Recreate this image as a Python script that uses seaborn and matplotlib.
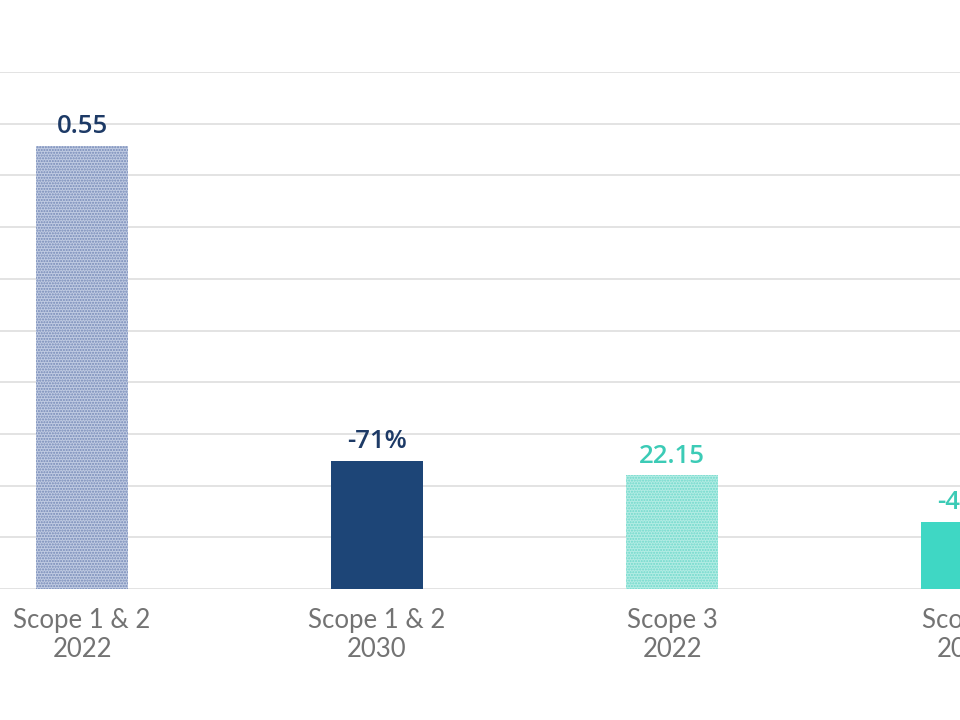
import matplotlib
matplotlib.use("Agg")
import matplotlib.pyplot as plt
import seaborn as sns
import pandas as pd

# categories and bar heights (read in gridline units off the picture)
categories = ["Scope 1 & 2\n2022", "Scope 1 & 2\n2030", "Scope 3\n2022", "Scope 3\n2030"]
heights = [8.57, 2.48, 2.20, 1.30]
value_labels = ["0.55", "-71%", "22.15", "-41%"]

face_colors = ["#c0cbe2", "#1d4577", "#b3ece4", "#3fd7c4"]
hatch_colors = ["#7488b6", "#1d4577", "#6fd9cb", "#3fd7c4"]
hatches = ["......", "", "......", ""]
text_colors = ["#1d3a66", "#1d3a66", "#3ccbb6", "#3ccbb6"]

df = pd.DataFrame({"cat": categories, "height": heights})

sns.set_theme(style="white")
plt.rcParams["font.family"] = ["Lato", "DejaVu Sans"]
plt.rcParams["hatch.linewidth"] = 1.0

fig = plt.figure(figsize=(9.6, 7.2), dpi=100)
# axes run past the right edge so the last bar is cut off as in the picture
ax = fig.add_axes([0, 0.1819, 1.2, 0.7181])

sns.barplot(data=df, x="cat", y="height", hue="cat", palette=face_colors,
            legend=False, width=0.315, saturation=1, ax=ax, zorder=3)

for bar, hc, h in zip(ax.patches, hatch_colors, hatches):
    bar.set_hatch(h)
    bar.set_edgecolor(hc)
    bar.set_linewidth(0)

for i, (h, lab, col) in enumerate(zip(heights, value_labels, text_colors)):
    ax.text(i, h + 0.13, lab, ha="center", va="bottom", fontsize=18.5,
            fontweight="semibold", color=col, family=["Open Sans", "DejaVu Sans"],
            zorder=4)

ax.set_xlim(-0.278, 3.627)
ax.set_ylim(0, 10)
ax.set_yticks(range(0, 11))
ax.set_yticklabels([])
ax.yaxis.grid(True, color="#dedede", linewidth=1.2, zorder=0)
ax.tick_params(axis="y", length=0)
ax.tick_params(axis="x", length=0, pad=14, labelsize=18.5, labelcolor="#737373")
for side in ["top", "right", "left", "bottom"]:
    ax.spines[side].set_visible(False)
ax.set_xlabel("")
ax.set_ylabel("")

fig.savefig("out.png", dpi=100)
